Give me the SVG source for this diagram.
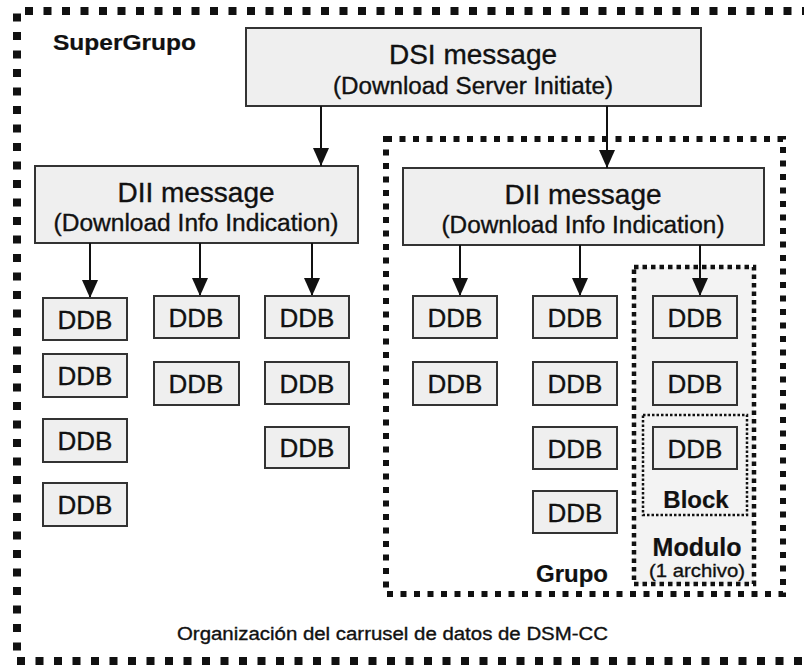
<svg xmlns="http://www.w3.org/2000/svg" width="804" height="668" viewBox="0 0 804 668">
<style>
text{font-family:"Liberation Sans",Arial,sans-serif;fill:#111;stroke:#111;stroke-width:0.35}
.box{fill:#efefef;stroke:#333;stroke-width:2}
.ddb{font-size:26px;text-anchor:middle}
.big{font-size:28px;text-anchor:middle}
.sub{font-size:23px;text-anchor:middle}
.bold{font-weight:bold;stroke-width:0.2}
.arrow{stroke:#111;stroke-width:2;fill:none;marker-end:url(#ah)}
</style>
<defs>
<marker id="ah" markerUnits="userSpaceOnUse" markerWidth="18" markerHeight="16" refX="18" refY="8" orient="auto">
<path d="M0,0 L18,8 L0,16 Z" fill="#111"/>
</marker>
</defs>
<rect width="804" height="668" fill="#fff"/>
<g id="supergrupo">
<path d="M810,11 H17 V661 H810" fill="none" stroke="#111" stroke-width="8" stroke-dasharray="8 10.5"/>
<text x="53" y="50" class="bold" font-size="22" textLength="143" lengthAdjust="spacingAndGlyphs">SuperGrupo</text>
</g>
<g id="grupo">
<rect x="386" y="139" width="397" height="455" fill="none" stroke="#111" stroke-width="6" stroke-dasharray="6 7.5"/>
<text x="572" y="582" class="bold" font-size="24" text-anchor="middle">Grupo</text>
</g>
<g id="modulo">
<rect x="634" y="267" width="120" height="317" fill="#f3f3f3" stroke="#111" stroke-width="4.5" stroke-dasharray="4.5 4"/>
<text x="697" y="556" class="bold" font-size="25" text-anchor="middle">Modulo</text>
<text x="697" y="577" font-size="19" text-anchor="middle" textLength="96" lengthAdjust="spacingAndGlyphs">(1 archivo)</text>
</g>
<g id="block">
<rect x="643" y="415" width="104" height="100" fill="none" stroke="#111" stroke-width="2.5" stroke-dasharray="2.5 2"/>
<text x="696" y="508" class="bold" font-size="24" text-anchor="middle">Block</text>
</g>
<g id="dsi">
<rect class="box" x="246" y="28" width="455" height="78"/>
<text x="473" y="64" class="big">DSI message</text>
<text x="473" y="94" class="sub" textLength="280" lengthAdjust="spacingAndGlyphs">(Download Server Initiate)</text>
</g>
<g id="dii-left">
<rect class="box" x="35" y="166" width="323" height="77"/>
<text x="196" y="202" class="big">DII message</text>
<text x="196" y="231" class="sub" textLength="285" lengthAdjust="spacingAndGlyphs">(Download Info Indication)</text>
</g>
<g id="dii-right">
<rect class="box" x="403" y="168" width="361" height="77"/>
<text x="583" y="204" class="big">DII message</text>
<text x="583" y="233" class="sub" textLength="283" lengthAdjust="spacingAndGlyphs">(Download Info Indication)</text>
</g>
<g id="connectors">
<line class="arrow" x1="321" y1="106" x2="321" y2="166"/>
<line class="arrow" x1="607" y1="106" x2="607" y2="168"/>
<line class="arrow" x1="90" y1="243" x2="90" y2="298"/>
<line class="arrow" x1="200" y1="243" x2="200" y2="296"/>
<line class="arrow" x1="312" y1="243" x2="312" y2="296"/>
<line class="arrow" x1="460" y1="245" x2="460" y2="296"/>
<line class="arrow" x1="580" y1="245" x2="580" y2="296"/>
<line class="arrow" x1="700" y1="245" x2="700" y2="296"/>
</g>
<g id="ddb-l1-1"><rect class="box" x="43" y="298" width="84" height="42"/><text class="ddb" x="85" y="329">DDB</text></g>
<g id="ddb-l1-2"><rect class="box" x="43" y="354" width="84" height="43"/><text class="ddb" x="85" y="385">DDB</text></g>
<g id="ddb-l1-3"><rect class="box" x="43" y="419" width="84" height="43"/><text class="ddb" x="85" y="450">DDB</text></g>
<g id="ddb-l1-4"><rect class="box" x="43" y="483" width="84" height="43"/><text class="ddb" x="85" y="514">DDB</text></g>
<g id="ddb-l2-1"><rect class="box" x="154" y="296" width="85" height="42"/><text class="ddb" x="196" y="327">DDB</text></g>
<g id="ddb-l2-2"><rect class="box" x="154" y="362" width="85" height="43"/><text class="ddb" x="196" y="393">DDB</text></g>
<g id="ddb-l3-1"><rect class="box" x="265" y="296" width="84" height="42"/><text class="ddb" x="307" y="327">DDB</text></g>
<g id="ddb-l3-2"><rect class="box" x="265" y="362" width="84" height="42"/><text class="ddb" x="307" y="393">DDB</text></g>
<g id="ddb-l3-3"><rect class="box" x="265" y="427" width="84" height="41"/><text class="ddb" x="307" y="457">DDB</text></g>
<g id="ddb-r1-1"><rect class="box" x="413" y="296" width="84" height="42"/><text class="ddb" x="455" y="327">DDB</text></g>
<g id="ddb-r1-2"><rect class="box" x="413" y="362" width="84" height="43"/><text class="ddb" x="455" y="393">DDB</text></g>
<g id="ddb-r2-1"><rect class="box" x="533" y="296" width="84" height="42"/><text class="ddb" x="575" y="327">DDB</text></g>
<g id="ddb-r2-2"><rect class="box" x="533" y="362" width="84" height="43"/><text class="ddb" x="575" y="393">DDB</text></g>
<g id="ddb-r2-3"><rect class="box" x="533" y="427" width="84" height="42"/><text class="ddb" x="575" y="458">DDB</text></g>
<g id="ddb-r2-4"><rect class="box" x="533" y="491" width="84" height="42"/><text class="ddb" x="575" y="522">DDB</text></g>
<g id="ddb-r3-1"><rect class="box" x="653" y="296" width="84" height="42"/><text class="ddb" x="695" y="327">DDB</text></g>
<g id="ddb-r3-2"><rect class="box" x="653" y="362" width="84" height="43"/><text class="ddb" x="695" y="393">DDB</text></g>
<g id="ddb-r3-3"><rect class="box" x="653" y="427" width="84" height="42"/><text class="ddb" x="695" y="458">DDB</text></g>
<g id="caption">
<text x="177" y="640" font-size="18" textLength="431" lengthAdjust="spacingAndGlyphs">Organización del carrusel de datos de DSM-CC</text>
</g>
</svg>
